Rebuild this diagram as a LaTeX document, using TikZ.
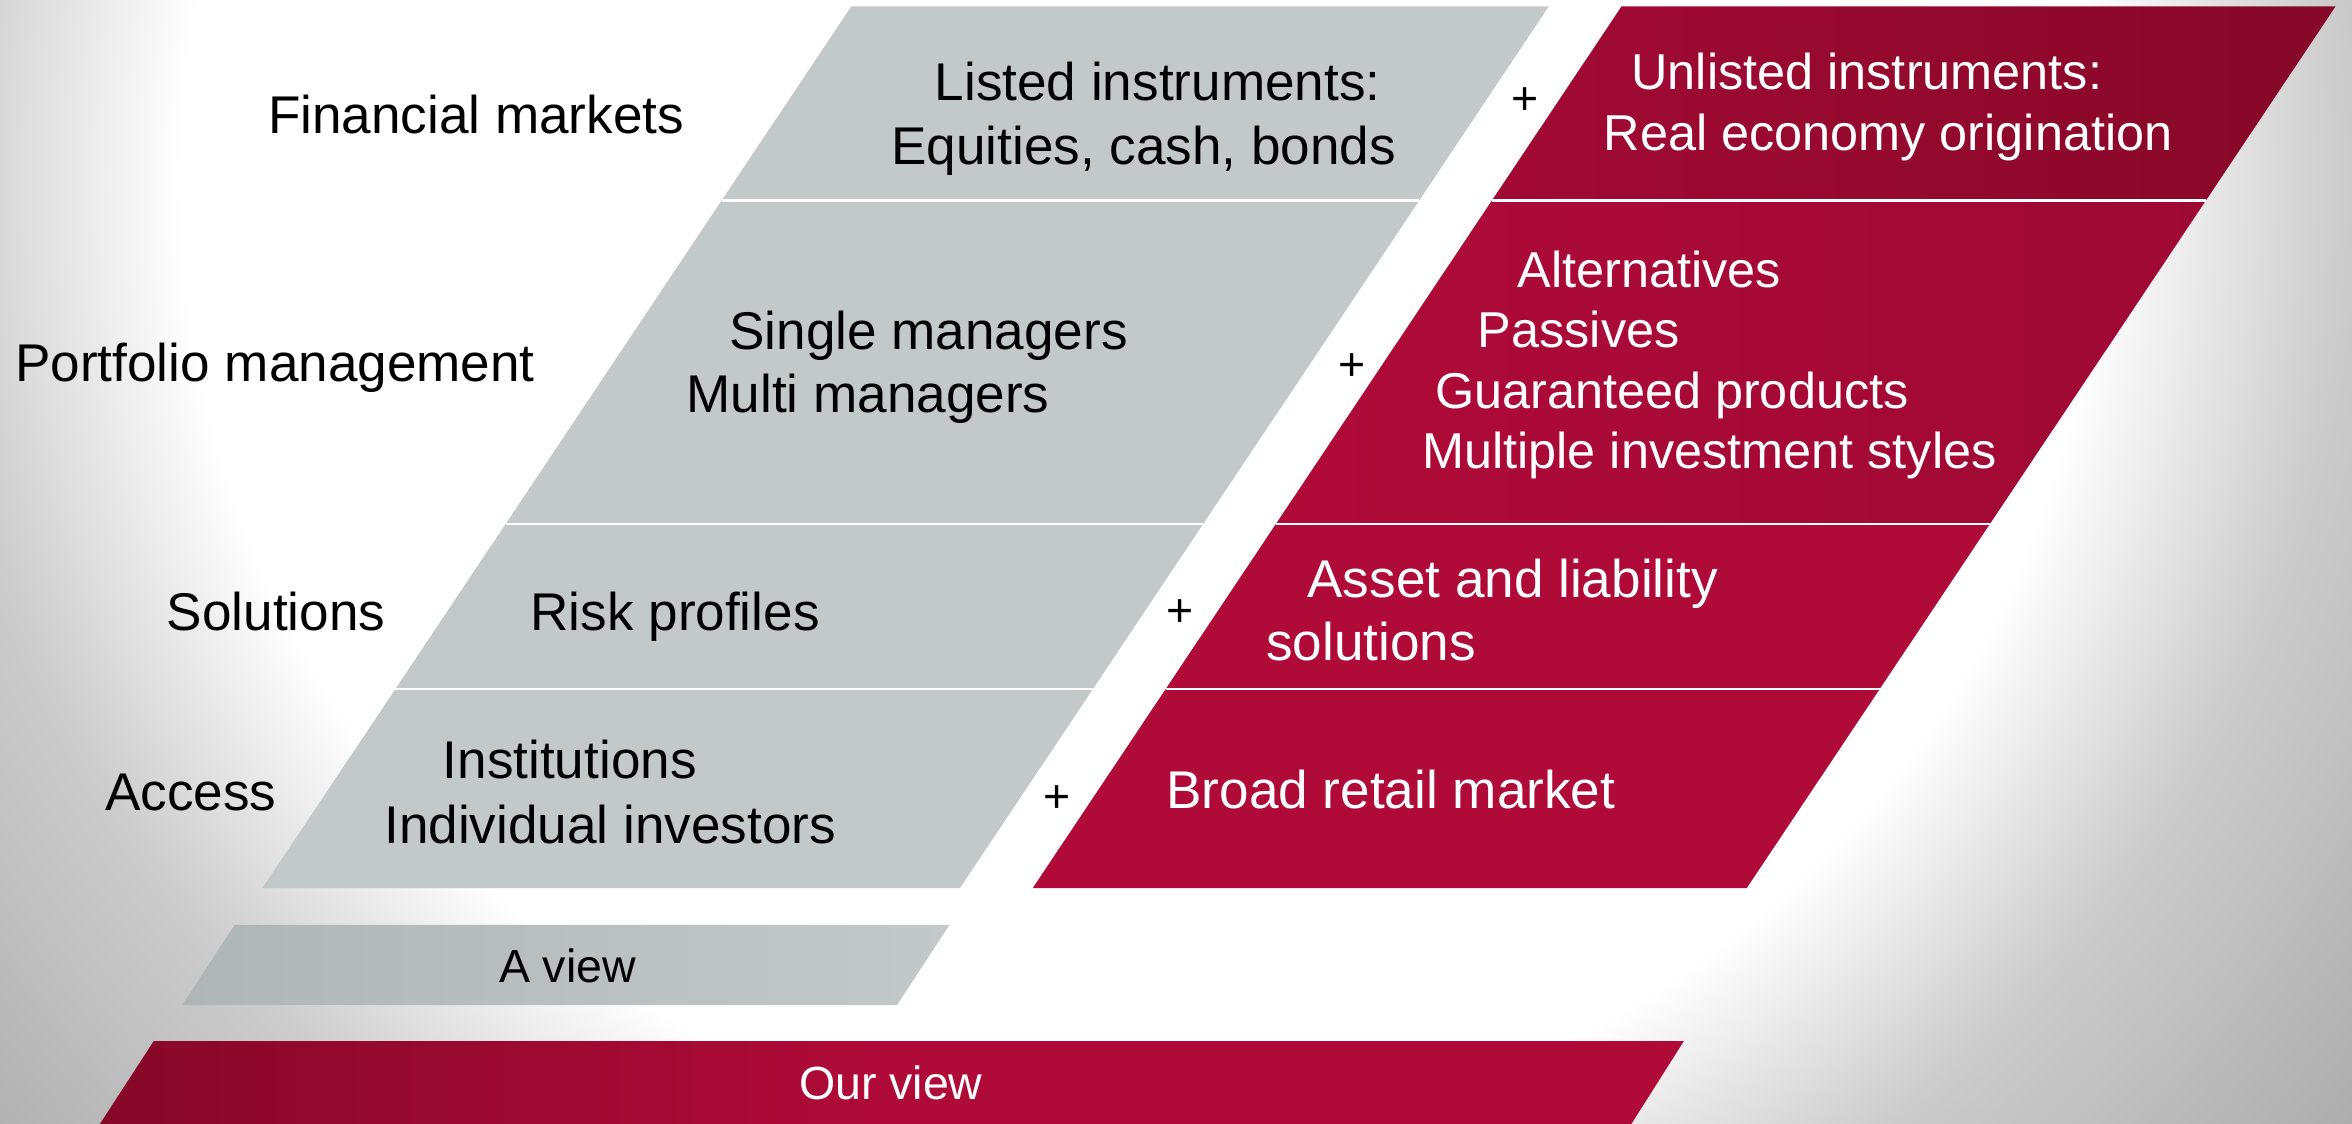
\documentclass[tikz,border=0pt]{standalone}
\usepackage{fontspec}
\setmainfont{Liberation Sans}
\definecolor{panelgray}{RGB}{195,201,200}
\definecolor{panelgraydark}{RGB}{176,182,181}
\definecolor{crimson}{RGB}{176,10,57}
\definecolor{crimsonmid}{RGB}{158,9,52}
\definecolor{crimsondark}{RGB}{134,8,40}
\definecolor{bgA}{RGB}{204,204,204}
\definecolor{bgB}{RGB}{172,172,172}
\definecolor{bgC}{RGB}{165,165,165}
\pgfdeclareradialshading{bgshade}{\pgfpointorigin}{color(0bp)=(white); color(14.5bp)=(white); color(18.2bp)=(bgA); color(23.4bp)=(bgB); color(25bp)=(bgC); color(50bp)=(bgC)}
\begin{document}
\begin{tikzpicture}[x=1pt,y=-1pt,
  txt/.style={anchor=base west, inner sep=0pt, font=\fontsize{35.4}{40}\selectfont},
  txtsm/.style={anchor=base west, inner sep=0pt, font=\fontsize{33.6}{38}\selectfont},
  txtbar/.style={anchor=base west, inner sep=0pt, font=\fontsize{31}{36}\selectfont},
  plusmark/.style={anchor=center, inner sep=0pt, font=\fontsize{31}{34}\selectfont},
  sepline/.style={draw=white, line width=1.6pt}]
\useasboundingbox (0,0) rectangle (1568,749);
% background
\begin{scope}
\clip (0,0) rectangle (1568,749);
\shade[shading=bgshade] (760,120) circle (1100pt);
\end{scope}
% gray column
\fill[panelgray] (567.5,4.3) -- (1032.5,4.3) -- (640,592) -- (175,592) -- cycle;
\draw[sepline] (481,133.8) -- (946,133.8);
\draw[sepline] (337.1,349.3) -- (802.1,349.3);
\draw[sepline] (263.5,459.5) -- (728.5,459.5);
% red column
\shade[left color=crimson!92!black, right color=crimsondark] (1081,4.3) -- (1557,4.3) -- (1470.5,133.8) -- (994.5,133.8) -- cycle;
\shade[left color=crimson, right color=crimsonmid] (994.5,133.8) -- (1470.5,133.8) -- (1326.6,349.3) -- (850.6,349.3) -- cycle;
\fill[crimson] (850.6,349.3) -- (1326.6,349.3) -- (1253,459.5) -- (777,459.5) -- cycle;
\fill[crimson] (777,459.5) -- (1253,459.5) -- (1164.5,592) -- (688.5,592) -- cycle;
\draw[sepline] (994.5,133.8) -- (1470.5,133.8);
\draw[sepline] (850.6,349.3) -- (1326.6,349.3);
\draw[sepline] (777,459.5) -- (1253,459.5);
% bottom bars
\shade[left color=panelgraydark, right color=panelgray] (156.5,616.5) -- (633,616.5) -- (598,670) -- (121.5,670) -- cycle;
\shade[left color=crimsondark, right color=crimson, middle color=crimson] (102.5,694) -- (1122.6,694) -- (1086.5,751) -- (65.5,751) -- cycle;
% row labels
\node[txt] (fm) at (178.5,89) {Financial markets};
\node[txt] (pm) at (10,254.5) {Portfolio management};
\node[txt] (so) at (111,420) {Solutions};
\node[txt] (ac) at (70,540) {Access};
% gray texts
\node[txt] (li1) at (623,67) {Listed instruments:};
\node[txt] (li2) at (594,110) {Equities, cash, bonds};
\node[txt] (sm1) at (486,233) {Single managers};
\node[txt] (sm2) at (457.5,275) {Multi managers};
\node[txt] (rp) at (353.5,420) {Risk profiles};
\node[txt] (in1) at (295,519) {Institutions};
\node[txt] (in2) at (256,562) {Individual investors};
% red texts
\node[txtsm, text=white] (ul1) at (1087.5,60) {Unlisted instruments:};
\node[txtsm, text=white] (ul2) at (1069,100.5) {Real economy origination};
\node[txtsm, text=white] (al1) at (1011.5,191.5) {Alternatives};
\node[txtsm, text=white] (al2) at (985,231.5) {Passives};
\node[txtsm, text=white] (al3) at (956.5,272.5) {Guaranteed products};
\node[txtsm, text=white] (al4) at (948,312.5) {Multiple investment styles};
\node[txt, text=white] (as1) at (871.5,398) {Asset and liability};
\node[txt, text=white] (as2) at (844,440) {solutions};
\node[txt, text=white] (br) at (777.5,539) {Broad retail market};
% bars text
\node[txtbar] (av) at (332.5,655) {A view};
\node[txtbar, text=white] (ov) at (532.5,733) {Our view};
% plus signs
\node[plusmark] (p1) at (1016.5,67.6) {+};
\node[plusmark] (p2) at (901.4,245) {+};
\node[plusmark] (p3) at (787,409) {+};
\node[plusmark] (p4) at (705,532.4) {+};
\end{tikzpicture}
\end{document}
